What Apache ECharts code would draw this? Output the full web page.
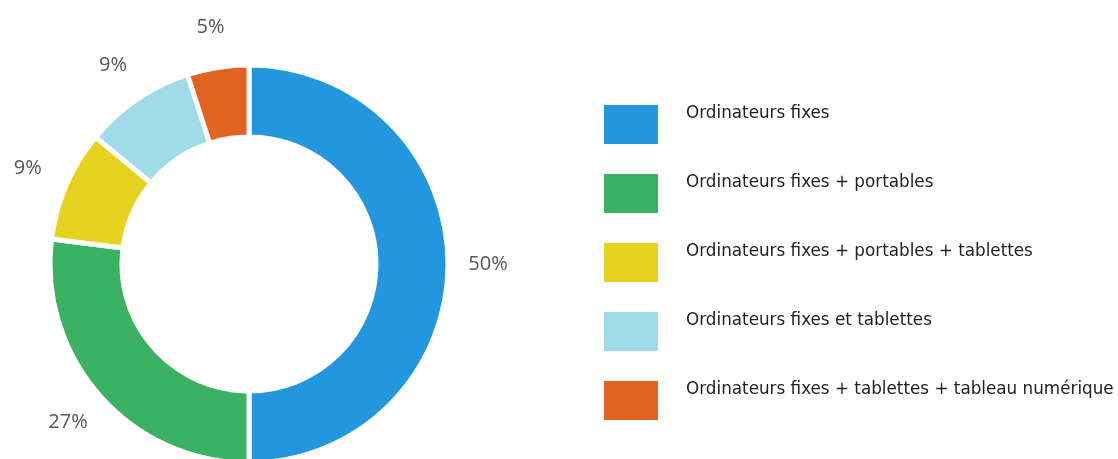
<!DOCTYPE html>
<html>
<head>
<meta charset="utf-8">
<script src="https://cdn.jsdelivr.net/npm/echarts@6/dist/echarts.min.js"></script>
<style>
    html, body {margin: 0; padding: 0; background: #fff;}
    #chart {width: 1118px; height: 459px;}
</style>
</head>
<body>
<div id="chart"></div>
<script>
    const categories = [
        'Ordinateurs fixes',
        'Ordinateurs fixes + portables',
        'Ordinateurs fixes + portables + tablettes',
        'Ordinateurs fixes et tablettes',
        'Ordinateurs fixes + tablettes + tableau numérique'
    ];
    const shares = [50, 27, 9, 9, 5];
    const colors = ['#2297e0', '#3bb163', '#e6d31f', '#a0dbe9', '#e2621f'];

    const myChart = echarts.init(document.getElementById('chart'));

    myChart.setOption({
        animation: false,
        color: colors,
        textStyle: {fontFamily: 'DejaVu Sans'},
        legend: {
            orient: 'vertical',
            left: 604,
            top: 105,
            padding: 0,
            icon: 'rect',
            itemWidth: 54,
            itemHeight: 39,
            itemGap: 30,
            selectedMode: false,
            data: categories,
            itemStyle: {borderWidth: 0},
            formatter: '{a|{name}}',
            textStyle: {
                color: '#222',
                rich: {
                    a: {
                        fontSize: 16.8,
                        lineHeight: 17,
                        color: '#222',
                        fontFamily: 'DejaVu Sans',
                        padding: [0, 0, 21, 23]
                    }
                }
            }
        },
        series: [{
            // the ring itself
            type: 'pie',
            center: [249, 264],
            radius: [127, 199],
            startAngle: 90,
            avoidLabelOverlap: false,
            label: {show: false},
            labelLine: {show: false},
            emphasis: {disabled: true},
            itemStyle: {borderColor: '#fff', borderWidth: 5},
            data: categories.map((name, i) => ({name: name, value: shares[i]}))
        }, {
            // invisible ring that only carries the percentage labels
            type: 'pie',
            center: [248, 264],
            radius: [227, 247],
            startAngle: 90,
            silent: true,
            avoidLabelOverlap: false,
            itemStyle: {color: 'rgba(0,0,0,0)'},
            emphasis: {disabled: true},
            labelLine: {show: false},
            label: {
                show: true,
                position: 'inside',
                formatter: '{c}%',
                fontSize: 20,
                color: '#555',
                fontFamily: 'Open Sans'
            },
            data: shares.map(v => ({value: v}))
        }]
    });
</script>
</body>
</html>
